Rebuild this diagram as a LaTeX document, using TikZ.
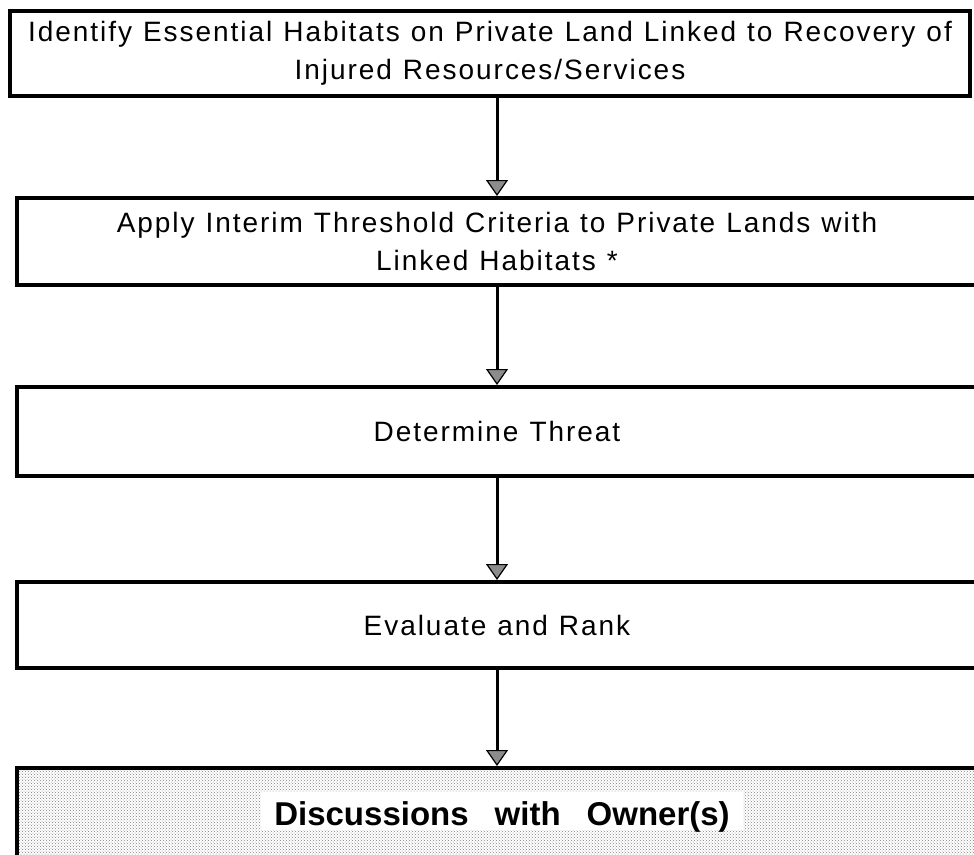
\documentclass[tikz,border=0pt]{standalone}
\usepackage{fontspec}
\setmainfont{Liberation Sans}
\usetikzlibrary{arrows.meta,patterns}
\newcommand\boxfont{\fontsize{28}{38}\selectfont\addfontfeatures{LetterSpace=7}\spaceskip 11pt\relax}
\begin{document}
\begin{tikzpicture}[x=1pt,y=-1pt,
  box/.style={draw, line width=4pt, inner sep=0pt, align=center, font=\boxfont},
  arr/.style={line width=3pt, -{Triangle[width=22pt,length=16pt,line width=1.2pt,fill=black!45]}}]
\useasboundingbox (0,0) rectangle (974,854);
\node[box, minimum width=960pt, minimum height=85pt] (b1) at (490,53.5)
  {Identify Essential Habitats on Private Land Linked to Recovery of\\Injured Resources/Services};
\node[box, minimum width=960pt, minimum height=87pt] (b2) at (497,241.5)
  {Apply Interim Threshold Criteria to Private Lands with\\Linked Habitats *};
\node[box, minimum width=960pt, minimum height=89pt] (b3) at (497,431.5)
  {Determine Threat};
\node[box, minimum width=960pt, minimum height=86pt] (b4) at (497,625)
  {Evaluate and Rank};
\node[box, minimum width=960pt, minimum height=132pt, pattern=crosshatch dots, pattern color=black!50] (b5) at (497,834) {};
\node[fill=white, inner xsep=13pt, inner ysep=0pt, text height=33pt, text depth=5pt, anchor=base,
  font=\fontsize{33}{36}\bfseries\selectfont] (t5) at (502,825)
  {Discussions\hspace{26pt}with\hspace{26pt}Owner(s)};
\draw[arr] (b1.south -| b2.north) -- (b2.north);
\draw[arr] (b2.south) -- (b3.north);
\draw[arr] (b3.south) -- (b4.north);
\draw[arr] (b4.south) -- (b5.north);
\end{tikzpicture}
\end{document}
